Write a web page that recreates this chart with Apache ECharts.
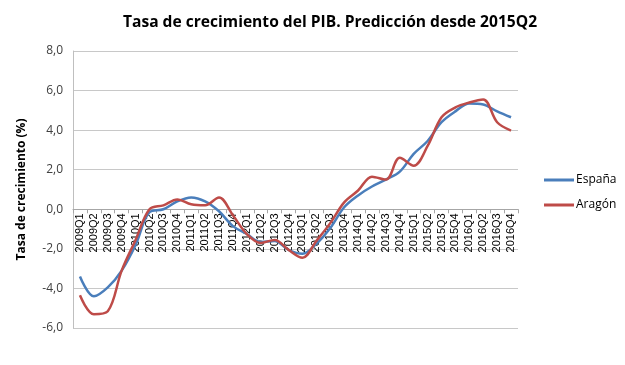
<!DOCTYPE html>
<html><head><meta charset="utf-8">
<script src="https://cdn.jsdelivr.net/npm/echarts@6/dist/echarts.min.js"></script>
<style>html,body{margin:0;padding:0;background:#fff}#c{width:625px;height:365px}</style>
</head><body><div id="c"></div>
<script>
var categories = ['2009Q1','2009Q2','2009Q3','2009Q4','2010Q1','2010Q2','2010Q3','2010Q4',
'2011Q1','2011Q2','2011Q3','2011Q4','2012Q1','2012Q2','2012Q3','2012Q4',
'2013Q1','2013Q2','2013Q3','2013Q4','2014Q1','2014Q2','2014Q3','2014Q4',
'2015Q1','2015Q2','2015Q3','2015Q4','2016Q1','2016Q2','2016Q3','2016Q4'];
var espana = [-3.4,-4.4,-3.95,-3.1,-1.8,-0.15,0.0,0.4,0.6,0.4,-0.1,-0.85,-1.25,-1.65,-1.6,-2.05,
-2.25,-1.75,-0.95,0.1,0.7,1.15,1.5,1.9,2.8,3.45,4.4,4.95,5.35,5.3,4.95,4.65];
var aragon = [-4.35,-5.3,-5.15,-3.1,-1.55,0.0,0.2,0.5,0.25,0.2,0.6,-0.3,-1.25,-1.7,-1.55,-2.05,
-2.45,-1.6,-0.7,0.35,0.95,1.65,1.5,2.6,2.2,3.2,4.65,5.15,5.4,5.55,4.4,3.98];
var yTicks = {min:-6, max:8, interval:2};

var gridTop = 51, gridBottom = 37, H = 365;
var plotH = H - gridTop - gridBottom;
var zeroOffset = -plotH * (0 - yTicks.min) / (yTicks.max - yTicks.min);

var chart = echarts.init(document.getElementById('c'), null, {renderer:'canvas'});
chart.setOption({
  animation:false,
  title:{text:'Tasa de crecimiento del PIB. Predicción desde 2015Q2', left:325, top:10, textAlign:'center',
    textStyle:{fontFamily:'Open Sans', fontWeight:'bold', fontSize:15.6, color:'#000'}},
  legend:{orient:'vertical', left:539, top:169, itemWidth:30, itemHeight:3, itemGap:13,
    icon:'rect', textStyle:{fontFamily:'Open Sans', fontSize:12, color:'#000', padding:[0,0,0,-3]},
    data:['España','Aragón']},
  grid:{left:73, right:107, top:gridTop, bottom:gridBottom},
  xAxis:{type:'category', data:categories, boundaryGap:true, offset:zeroOffset,
    axisLine:{onZero:false, lineStyle:{color:'#a6a6a6', width:1}},
    axisTick:{show:true, length:4, lineStyle:{color:'#a6a6a6'}},
    axisLabel:{rotate:90, interval:0, fontFamily:'Liberation Sans', fontSize:11, color:'#000', margin:4}},
  yAxis:{type:'value', min:yTicks.min, max:yTicks.max, interval:yTicks.interval,
    name:'Tasa de crecimiento (%)', nameLocation:'middle', nameGap:45, nameRotate:90,
    nameTextStyle:{fontFamily:'Open Sans', fontWeight:'bold', fontSize:12, color:'#000'},
    axisLine:{show:true, lineStyle:{color:'#bfbfbf'}},
    axisTick:{show:false},
    splitLine:{lineStyle:{color:'#c8c8c8', width:1}},
    axisLabel:{formatter:function(v){return v.toFixed(1).replace('.',',');},
      fontFamily:'Open Sans', fontSize:12, color:'#404040', margin:10}},
  series:[
    {name:'España', type:'line', data:espana, smooth:0.35, symbol:'none',
      lineStyle:{color:'#4a7ebb', width:2.5}, itemStyle:{color:'#4a7ebb'}},
    {name:'Aragón', type:'line', data:aragon, smooth:0.35, symbol:'none',
      lineStyle:{color:'#be4b48', width:2.5}, itemStyle:{color:'#be4b48'}}
  ]
});
</script></body></html>
